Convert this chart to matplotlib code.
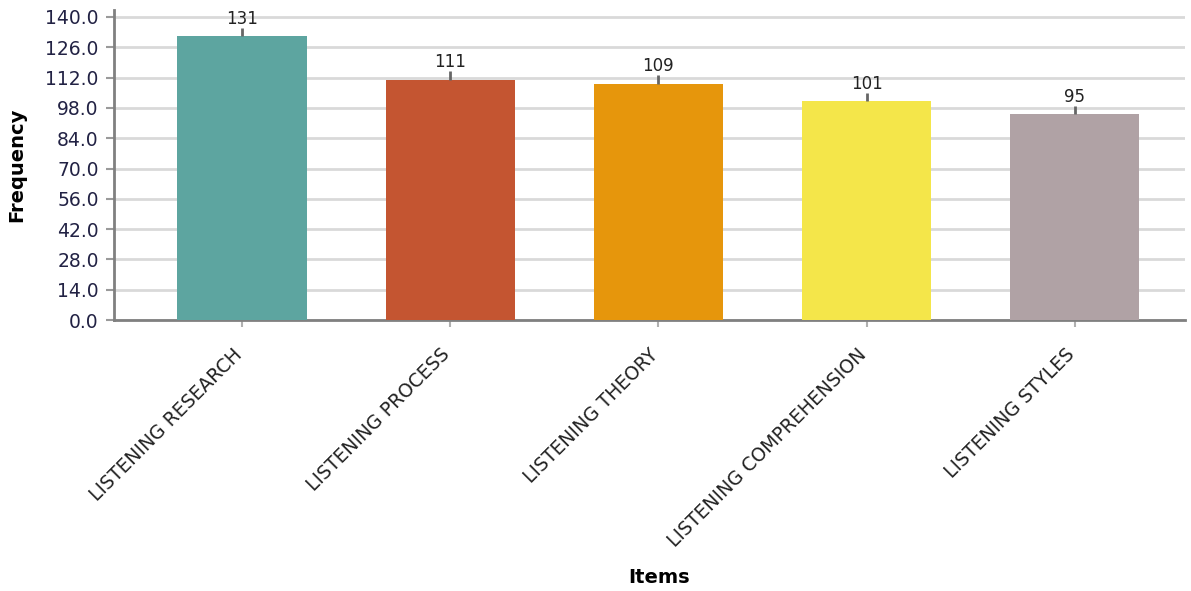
import matplotlib
matplotlib.use("Agg")
import matplotlib.pyplot as plt

# Data
items = ["LISTENING RESEARCH", "LISTENING PROCESS", "LISTENING THEORY",
         "LISTENING COMPREHENSION", "LISTENING STYLES"]
frequency = [131, 111, 109, 101, 95]
bar_colors = ["#5da5a0", "#c45531", "#e6960c", "#f4e64a", "#b0a2a5"]
y_ticks = [0, 14, 28, 42, 56, 70, 84, 98, 112, 126, 140]

plt.rcParams["font.family"] = ["DejaVu Sans"]

fig = plt.figure(figsize=(11.91, 5.91), dpi=100)
ax = fig.add_axes([0.0957, 0.4585, 0.8993, 0.5245])

x = list(range(len(items)))
ax.bar(x, frequency, width=0.62, color=bar_colors, zorder=3)

# Short stubs above each bar with the value printed over them
for xi, v in zip(x, frequency):
    ax.vlines(xi, v, v + 4, color="#666666", lw=2, zorder=4)
    ax.annotate(str(v), (xi, v + 4), xytext=(0, 0), textcoords="offset points",
                ha="center", va="bottom", fontsize=12, color="#222222")

ax.set_xlim(-0.615, 4.53)
ax.set_ylim(0, 143.2)
ax.set_yticks(y_ticks)
ax.set_yticklabels([f"{t:.1f}" for t in y_ticks], fontsize=13.5, color="#222244")
ax.set_xticks(x)
ax.set_xticklabels([])

# Category names, rotated and ending just under each tick
for xi, name in zip(x, items):
    ax.annotate(name, (xi, 0), xycoords=("data", "axes fraction"),
                xytext=(-7.2, -18), textcoords="offset points",
                rotation=45, rotation_mode="anchor", ha="right", va="top",
                fontsize=13.5, color="#222222")

ax.grid(axis="y", color="#d9d9d9", lw=2, zorder=0)
ax.set_axisbelow(True)

for side in ("top", "right"):
    ax.spines[side].set_visible(False)
for side in ("left", "bottom"):
    ax.spines[side].set_color("#808080")
    ax.spines[side].set_linewidth(2)

ax.tick_params(axis="y", length=6, width=1.5, color="#9a9a9a", pad=5)
ax.tick_params(axis="x", length=5, width=1.5, color="#b0b0b0")

ax.set_ylabel("Frequency", fontsize=14, fontweight="bold", va="center")
ax.yaxis.set_label_coords(-0.0906, 0.5)
ax.set_xlabel("Items", fontsize=14, fontweight="bold", va="center")
ax.xaxis.set_label_coords(0.509, -0.832)

fig.savefig("out.png", dpi=100)
